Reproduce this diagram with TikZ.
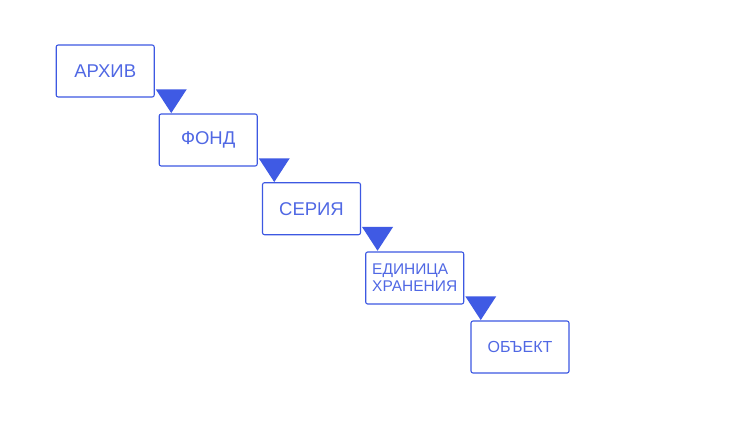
\documentclass[tikz,border=0pt]{standalone}
\usepackage{fontspec}
\setmainfont{Liberation Sans}
\definecolor{bordc}{HTML}{3D58E2}
\definecolor{txtc}{HTML}{5068E4}
\definecolor{trif}{HTML}{3F5AE4}
\begin{document}
\begin{tikzpicture}[x=1pt,y=-1pt,
  levelbox/.style={draw=bordc, line width=1.1pt, rounded corners=2pt, fill=white,
    minimum width=98pt, minimum height=52pt, inner sep=0pt, text=txtc, align=left},
  bigtxt/.style={font=\fontsize{18.5}{20}\selectfont},
  midtxt/.style={font=\fontsize{16}{18}\selectfont},
  smalltxt/.style={font=\fontsize{15.5}{16.7}\selectfont},
  tri/.style={fill=trif, draw=none}]
\useasboundingbox (0,0) rectangle (750,429);
\fill[white] (0,0) rectangle (750,429);
\node[levelbox,bigtxt] (a1) at (105.2,71) {АРХИВ};
\node[levelbox,bigtxt] (a2) at (208.2,140) {ФОНД};
\node[levelbox,bigtxt] (a3) at (311.5,208.7) {СЕРИЯ};
\node[levelbox,smalltxt] (a4) at (414.7,278) {ЕДИНИЦА\\ХРАНЕНИЯ};
\node[levelbox,midtxt] (a5) at (520,347) {ОБЪЕКТ};
\foreach \s in {a1,a2,a3,a4}{
  \fill[tri] ([shift={(1,-8.3)}]\s.south east) -- ([shift={(32,-8.3)}]\s.south east)
     -- ([shift={(16.5,15.5)}]\s.south east) -- cycle;
}
\end{tikzpicture}
\end{document}
